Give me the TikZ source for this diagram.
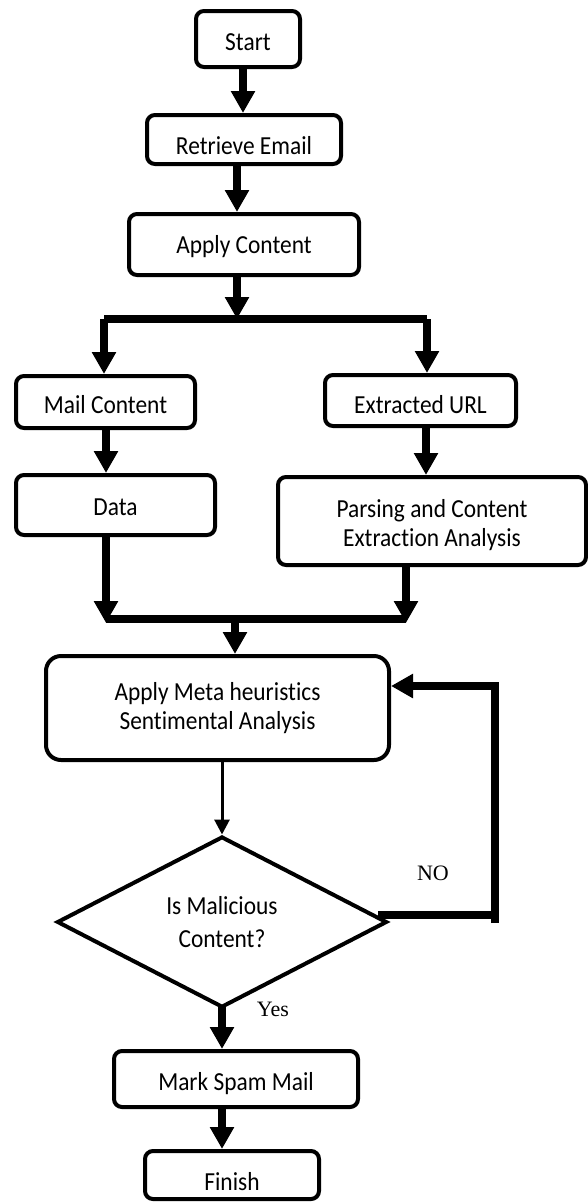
\documentclass[tikz,border=0pt]{standalone}
\usepackage{fontspec}
\setmainfont{Carlito}[FakeStretch=0.9, Ligatures={NoCommon}, RawFeature={-liga;-clig;-dlig}]
\newfontfamily\tnr{Liberation Serif}
\usetikzlibrary{arrows.meta,shapes.geometric}
\begin{document}
\begin{tikzpicture}[x=1pt,y=-1pt,
  box/.style={draw, line width=4pt, rounded corners=8pt, inner sep=0pt, align=center,
              font=\fontsize{26}{29}\selectfont},
  bigbox/.style={box, rounded corners=15pt},
  decision/.style={draw, shape=diamond, line width=4pt, inner sep=0pt, align=center,
              font=\fontsize{26}{33}\selectfont},
  big/.style={line width=8pt, -{Triangle[width=23pt,length=22pt]}},
  bar/.style={line width=8pt, line cap=square},
  thin/.style={line width=3pt, -{Triangle[width=15pt,length=15pt]}},
  lbl/.style={font=\tnr\fontsize{22}{26}\selectfont, inner sep=0pt}
]
\useasboundingbox (0,0) rectangle (587,1203);

\node[box, minimum width=104pt, minimum height=56pt, text depth=0pt, text height=23.8pt] (start) at (248,39) {Start};
\node[box, minimum width=194pt, minimum height=49pt, text depth=0pt, text height=30.8pt] (retr) at (244,139.5) {Retrieve Email};
\node[box, minimum width=230pt, minimum height=61pt, text depth=0pt, text height=18.8pt] (apply) at (244,244.5) {Apply Content};
\node[box, minimum width=179pt, minimum height=52pt, text depth=0pt, text height=23.8pt] (mail) at (105.5,402) {Mail Content};
\node[box, minimum width=191pt, minimum height=51pt, text depth=0pt, text height=26.8pt] (ext) at (420.5,400.5) {Extracted URL};
\node[box, minimum width=199pt, minimum height=60pt, text depth=0pt, text height=21.8pt] (data) at (115.5,505) {Data};
\node[box, minimum width=308pt, minimum height=88pt] (pars) at (432,521) {\rule{0pt}{27pt}Parsing and Content\\Extraction Analysis};
\node[bigbox, minimum width=343pt, minimum height=104pt] (meta) at (217.5,708) {Apply Meta heuristics\\Sentimental Analysis};
\node[decision, minimum width=330pt, minimum height=171pt] (dia) at (222,922) {Is Malicious\\Content?};
\node[box, minimum width=244pt, minimum height=56pt, text depth=0pt, text height=23.8pt] (mark) at (236,1079) {Mark Spam Mail};
\node[box, minimum width=174pt, minimum height=48pt, text depth=0pt, text height=31.8pt] (fin) at (232,1175) {Finish};

\node[lbl] (no) at (433,873) {NO};
\node[lbl] (yes) at (273,1009) {Yes};

% top chain
\draw[big] (start.south -| 243,0) -- (retr.north -| 243,0);
\draw[big] (retr.south -| 237,0) -- (apply.north -| 237,0);

% split
\coordinate (split) at (237,319);
\coordinate (bl) at (104,319);
\coordinate (br) at (427,319);
\draw[big] (apply.south -| split) -- (split);
\draw[bar] (bl) -- (br);
\draw[big] (bl) -- (bl |- mail.north);
\draw[big] (br) -- (br |- ext.north);
\draw[big] (mail.south -| 106,0) -- (data.north -| 106,0);
\draw[big] (ext.south -| 426,0) -- (pars.north -| 426,0);

% join
\coordinate (jl) at (106,619);
\coordinate (jr) at (406,619);
\coordinate (join) at (235,619);
\draw[big] (data.south -| jl) -- ([yshift=-4pt]jl);
\draw[big] (pars.south -| jr) -- ([yshift=-4pt]jr);
\draw[bar] (jl) -- (jr);
\draw[big] (join) -- (meta.north -| join);

% meta to decision
\draw[thin] (meta.south -| dia.north) -- (dia.north);

% NO loop
\coordinate (nostart) at (378,915);
\coordinate (c1) at (495,915);
\coordinate (c1b) at (495,923);
\coordinate (c2) at (495,686);
\draw[line width=8pt] (nostart) -- (c1);
\draw[line width=8pt, -{Triangle[width=23pt,length=22pt]}] (c1b) -- (c2) -- (c2 -| meta.east);

% yes path
\draw[big] ([yshift=5pt]dia.south) -- (dia.south |- mark.north);
\draw[big] (mark.south -| 222,0) -- (fin.north -| 222,0);
\end{tikzpicture}
\end{document}
